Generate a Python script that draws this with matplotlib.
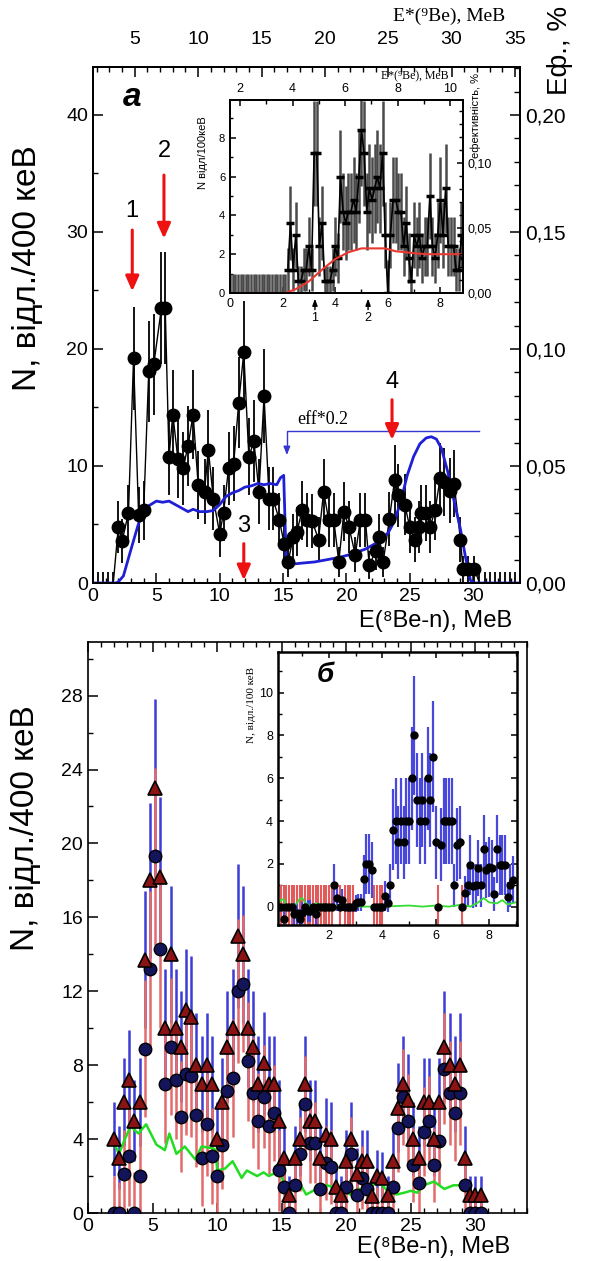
import numpy as np
import matplotlib
matplotlib.use('Agg')
from matplotlib import pyplot as plt
from matplotlib.ticker import MultipleLocator, FuncFormatter

plt.rcParams['font.family'] = ['Liberation Sans', 'DejaVu Sans']
plt.rcParams['axes.linewidth'] = 1.2
SERIF = ['Liberation Serif', 'DejaVu Serif']

# ---- panel a: spectrum, N / 400 keV
e_a = [0.0, 0.4, 0.8, 1.2, 1.6, 2.0, 2.3, 2.8, 3.2, 3.6, 4.0, 4.4, 4.8, 5.4, 5.7,
       6.0, 6.3, 6.7, 7.1, 7.5, 7.9, 8.3, 8.8, 9.1, 9.5, 10.0, 10.3, 10.7, 11.1, 11.5,
       11.9, 12.3, 12.7, 13.1, 13.5, 13.9, 14.2, 14.7, 15.1, 15.4, 15.8, 16.1, 16.5, 16.9, 17.3,
       17.8, 18.2, 18.6, 19.0, 19.4, 19.8, 20.2, 20.7, 21.1, 21.5, 21.8, 22.3, 22.6, 22.9, 23.4,
       23.8, 24.1, 24.6, 25.0, 25.4, 25.7, 25.9, 26.3, 26.6, 27.0, 27.4, 27.7, 28.2, 28.5, 29.0,
       29.2, 29.6, 30.1, 30.5, 30.9, 31.3, 31.7, 32.1, 32.5, 32.9, 33.3]
n_a = [0, 0, 0, 0, 0, 4.8, 3.6, 6.0, 19.2, 5.8, 6.2, 18.1, 18.7, 23.5, 23.5,
       10.8, 14.4, 10.6, 9.8, 11.7, 14.4, 8.4, 7.8, 11.4, 7.2, 4.2, 6.0, 9.8, 10.2, 15.4,
       19.7, 10.8, 12.1, 7.8, 16.0, 7.2, 7.2, 5.4, 3.3, 1.8, 3.9, 4.4, 6.2, 5.4, 5.3,
       3.7, 7.8, 5.4, 5.4, 1.8, 6.1, 4.8, 2.4, 5.4, 5.4, 1.5, 2.7, 3.9, 1.8, 5.5,
       8.8, 7.5, 6.7, 4.8, 3.7, 4.8, 6.0, 6.0, 4.8, 6.2, 9.0, 8.6, 7.9, 8.5, 3.7,
       1.2, 1.2, 1.2, 0, 0, 0, 0, 0, 0, 0, 0]
err_a = [0.9, 0.9, 0.9, 0.9, 0.9, 2.2, 1.9, 2.4, 4.4, 2.4, 2.5, 4.3, 4.3, 4.8, 4.8,
         3.3, 3.8, 3.3, 3.1, 3.4, 3.8, 2.9, 2.8, 3.4, 2.7, 2.0, 2.4, 3.1, 3.2, 3.9,
         4.4, 3.3, 3.5, 2.8, 4.0, 2.7, 2.7, 2.3, 1.8, 1.3, 2.0, 2.1, 2.5, 2.3, 2.3,
         1.9, 2.8, 2.3, 2.3, 1.3, 2.5, 2.2, 1.5, 2.3, 2.3, 1.2, 1.6, 2.0, 1.3, 2.3,
         3.0, 2.7, 2.6, 2.2, 1.9, 2.2, 2.4, 2.4, 2.2, 2.5, 3.0, 2.9, 2.8, 2.9, 1.9,
         1.1, 1.1, 1.1, 0.9, 0.9, 0.9, 0.9, 0.9, 0.9, 0.9, 0.9]
# efficiency curve in count units (right axis = 0.005 * left axis)
eff_e = [0, 1.8, 2.0, 2.4, 2.9, 3.3, 3.6, 4.0, 4.4, 5.0, 5.5, 6.0, 6.5, 7.0, 7.5, 7.9,
         8.4, 9.0, 9.5, 10.0, 10.5, 11.0, 11.5, 12.0, 12.5, 13.0, 13.5, 14.0, 14.5, 14.8,
         15.05, 15.25, 15.6, 16.5, 17.5, 18.5, 19.5, 20.5, 21.5, 22.5, 23.3, 23.8, 24.3,
         24.8, 25.3, 25.8, 26.3, 26.7, 27.1, 27.5, 28.0, 28.5, 29.0, 29.4, 29.8, 30.1, 33.7]
eff_n = [0, 0, 0.1, 0.6, 2.5, 4.0, 5.1, 6.1, 6.6, 7.0, 6.9, 7.0, 6.7, 6.4, 6.1, 6.3,
         6.1, 6.1, 6.2, 6.7, 7.4, 7.7, 7.9, 8.2, 8.3, 8.5, 8.4, 8.5, 8.4, 9.0,
         9.2, 1.8, 1.6, 1.7, 1.8, 2.0, 2.2, 2.5, 2.9, 3.5, 4.3, 5.3, 7.0,
         9.2, 10.8, 11.9, 12.4, 12.5, 12.3, 11.5, 9.5, 7.0, 4.6, 2.2, 0.2, 0, 0]

# ---- inset a, N / 100 keV
ins_a_e = [0.0, 0.1, 0.2, 0.3, 0.4, 0.5, 0.6, 0.7, 0.8, 0.9, 1.0, 1.1, 1.2, 1.3, 1.4,
           1.5, 1.6, 1.7, 1.8, 1.9, 2.0, 2.1, 2.2, 2.3, 2.4, 2.5, 2.6, 2.7, 2.8, 2.9,
           3.0, 3.1, 3.2, 3.3, 3.4, 3.5, 3.6, 3.7, 3.8, 3.9, 4.0, 4.1, 4.2, 4.3, 4.4,
           4.5, 4.6, 4.7, 4.8, 4.9, 5.0, 5.1, 5.2, 5.3, 5.4, 5.5, 5.6, 5.7, 5.8, 5.9,
           6.0, 6.1, 6.2, 6.3, 6.4, 6.5, 6.6, 6.7, 6.8, 6.9, 7.0, 7.1, 7.2, 7.3, 7.4,
           7.5, 7.6, 7.7, 7.8, 7.9, 8.0, 8.1, 8.2, 8.3, 8.4, 8.5, 8.6, 8.7, 8.8, 8.9]
ins_a_n = [0, 0, 0, 0, 0, 0, 0, 0, 0, 0, 0, 0, 0, 0, 0,
           0, 0, 0, 0, 0, 0, 0, 1.2, 3.6, 1.2, 3.0, 0.6, 0.6, 1.2, 1.2,
           2.4, 1.2, 7.2, 7.2, 2.4, 3.6, 0.6, 0.6, 0.6, 1.2, 2.4, 1.8, 6.0, 4.2, 3.6,
           4.2, 4.2, 4.8, 4.2, 6.0, 8.4, 7.2, 4.2, 5.4, 4.8, 5.4, 6.0, 5.4, 7.2, 3.0,
           0.0, 3.0, 4.8, 4.8, 4.2, 4.2, 2.4, 3.6, 1.8, 0.6, 3.0, 2.4, 3.0, 1.8, 2.4,
           2.4, 5.0, 2.4, 1.8, 3.0, 4.8, 3.0, 5.4, 2.4, 2.4, 2.4, 1.2, 1.2, 3.0, 1.8]
ins_a_err = [1.0, 1.0, 1.0, 1.0, 1.0, 1.0, 1.0, 1.0, 1.0, 1.0, 1.0, 1.0, 1.0, 1.0, 1.0,
             1.0, 1.0, 1.0, 1.0, 1.0, 1.0, 1.0, 1.1, 1.9, 1.1, 1.7, 0.8, 0.8, 1.1, 1.1,
             1.5, 1.1, 2.7, 2.7, 1.5, 1.9, 0.8, 0.8, 0.8, 1.1, 1.5, 1.3, 2.4, 2.0, 1.9,
             2.0, 2.0, 2.2, 2.0, 2.4, 2.9, 2.7, 2.0, 2.3, 2.2, 2.3, 2.4, 2.3, 2.7, 1.7,
             1.7, 1.7, 2.2, 2.2, 2.0, 2.0, 1.5, 1.9, 1.3, 0.8, 1.7, 1.5, 1.7, 1.3, 1.5,
             1.5, 2.2, 1.5, 1.3, 1.7, 2.2, 1.7, 2.3, 1.5, 1.5, 1.5, 1.1, 1.1, 1.7, 1.3]
ins_a_eff_e = [0, 2.1, 2.5, 3.0, 3.5, 4.0, 4.5, 5.0, 5.5, 5.9, 6.3, 6.7, 7.0, 7.5, 8.9]
ins_a_eff_n = [0, 0, 0.2, 0.6, 1.2, 1.75, 2.1, 2.3, 2.3, 2.3, 2.15, 2.1, 2.05, 2.0, 2.0]

# ---- panel b
e_b = [2.0, 2.4, 2.8, 3.2, 3.6, 4.0, 4.4, 4.8, 5.2, 5.6, 6.0, 6.4, 6.8, 7.2, 7.6, 8.0,
       8.4, 8.8, 9.2, 9.6, 10.0, 10.4, 10.8, 11.2, 11.6, 12.0, 12.4, 12.8, 13.2, 13.6,
       14.0, 14.4, 14.8, 15.2, 15.6, 16.0, 16.4, 16.8, 17.2, 17.6, 18.0, 18.4, 18.8,
       19.2, 19.6, 20.0, 20.4, 20.8, 21.2, 21.6, 22.0, 22.4, 22.8, 23.2, 23.6, 24.0,
       24.4, 24.8, 25.2, 25.6, 26.0, 26.4, 26.8, 27.2, 27.6, 28.0, 28.4, 28.8, 29.2,
       29.6, 30.0, 30.4]
tri_b = [4.0, 3.0, 6.0, 7.2, 5.0, 6.0, 13.7, 18.0, 23.0, 18.2, 10.0, 14.0, 10.0, 9.0,
         11.0, 10.6, 8.0, 7.0, 8.0, 7.0, 4.0, 6.0, 9.0, 10.0, 15.0, 14.0, 10.0, 9.0, 7.0,
         8.1, 7.0, 7.0, 5.0, 3.0, 1.0, 3.0, 4.0, 7.0, 5.0, 5.0, 3.0, 4.2, 4.0, 1.4, 1.0,
         2.8, 4.0, 2.1, 2.8, 2.8, 0.9, 2.0, 1.9, 1.0, 2.8, 5.7, 7.0, 6.1, 4.0, 3.0, 6.0,
         6.0, 4.0, 6.0, 9.0, 8.0, 7.0, 8.0, 3.0, 1.0, 1.0, 1.0]
circ_b = [0, 0, 2.1, 3.1, 0, 2.0, 8.9, 13.2, 19.3, 14.3, 7.0, 9.0, 7.2, 5.2, 7.5, 7.4,
          5.3, 3.0, 4.8, 3.1, 2.0, 3.7, 6.6, 7.3, 12.0, 12.4, 8.2, 6.5, 5.0, 6.3, 4.7,
          5.4, 2.3, 1.4, 0, 1.5, 3.2, 5.9, 3.8, 3.8, 1.3, 2.7, 2.5, 0, 0, 1.4, 3.2, 1.0,
          1.9, 1.3, 0, 0, 0, 0, 1.4, 4.6, 6.3, 5.0, 2.6, 1.6, 4.4, 5.0, 2.6, 3.9, 7.8,
          6.5, 5.4, 6.5, 1.5, 0, 0, 0]
err_b = [2.0, 1.7, 2.4, 2.7, 2.2, 2.4, 3.7, 4.2, 4.8, 4.3, 3.2, 3.7, 3.2, 3.0, 3.3, 3.3,
         2.8, 2.6, 2.8, 2.6, 2.0, 2.4, 3.0, 3.2, 3.9, 3.7, 3.2, 3.0, 2.6, 2.8, 2.6, 2.6,
         2.2, 1.7, 1.0, 1.7, 2.0, 2.6, 2.2, 2.2, 1.7, 2.0, 2.0, 1.2, 1.0, 1.7, 2.0, 1.4,
         1.7, 1.7, 0.9, 1.4, 1.4, 1.0, 1.7, 2.4, 2.6, 2.5, 2.0, 1.7, 2.4, 2.4, 2.0, 2.4,
         3.0, 2.8, 2.6, 2.8, 1.7, 1.0, 1.0, 1.0]
green_e = [2.0, 2.4, 2.8, 3.3, 3.9, 4.5, 5.3, 5.95, 6.3, 6.85, 7.5, 8.3, 8.8, 9.7, 9.9,
           10.0, 10.6, 11.2, 11.9, 12.3, 13.1, 13.6, 14.0, 14.6, 14.9, 15.2, 15.9, 16.4,
           16.9, 17.7, 18.5, 19.0, 19.6, 20.3, 21.0, 21.6, 22.5, 23.2, 23.9, 24.5, 25.0,
           25.5, 26.0, 26.8, 27.6, 28.3, 29.1, 29.3]
green_n = [3.8, 3.2, 3.9, 4.7, 4.3, 4.8, 3.7, 3.4, 4.3, 3.2, 3.6, 2.9, 3.6, 3.5, 3.4,
           2.3, 2.4, 2.8, 1.9, 2.3, 2.0, 2.2, 2.0, 2.2, 2.2, 1.5, 1.4, 1.6,
           1.0, 1.3, 1.5, 1.4, 1.3, 1.0, 1.3, 1.35, 1.7, 1.2, 1.0, 1.1, 1.2,
           1.1, 1.5, 1.7, 1.3, 1.5, 1.5, 1.4]

# ---- inset b, N / 100 keV
ins_b_e = [0.1, 0.2, 0.3, 0.4, 0.5, 0.6, 0.7, 0.8, 0.9, 1.0, 1.1, 1.2, 1.3, 1.4, 1.5,
           1.6, 1.7, 1.8, 1.9, 2.0, 2.1, 2.2, 2.3, 2.4, 2.5, 2.6, 2.7, 2.8, 2.9, 3.0,
           3.1, 3.2, 3.3, 3.4, 3.5, 3.6, 3.7, 3.8, 3.9, 4.0, 4.1, 4.2, 4.3, 4.4, 4.5,
           4.6, 4.7, 4.8, 4.9, 5.0, 5.1, 5.2, 5.3, 5.4, 5.5, 5.6, 5.7, 5.8, 5.9, 6.0,
           6.1, 6.2, 6.3, 6.4, 6.5, 6.6, 6.7, 6.8, 6.9, 7.0, 7.1, 7.2, 7.3, 7.4, 7.5,
           7.6, 7.7, 7.8, 7.9, 8.0, 8.1, 8.2, 8.3, 8.4, 8.5, 8.6, 8.7, 8.8, 8.9]
ins_b_n = [0, 0, -0.6, 0, 0, 0, -0.35, -0.3, -0.6, -0.3, 0, -0.2, -0.2, 0, -0.35,
           0, 0, 0, 0, 0, 0, 1.0, 0.4, 0, 0.3, 0, 0, 0, 0, 0.15,
           0.2, 0.2, 1.3, 2.0, 2.0, 1.7, 0, 0, 0, 0, 0.5, 0.15, 1.0, 3.6, 4.0,
           3.0, 4.0, 3.0, 4.0, 4.0, 6.0, 8.0, 5.0, 4.0, 5.0, 4.0, 6.0, 5.0, 7.0, 3.0,
           0, 2.9, 4.0, 4.0, 4.0, 4.0, 1.0, 2.9, 3.0, 0, 0.65, 1.0, 1.95, 0.95, 1.0,
           1.8, 1.0, 2.7, 1.7, 1.85, 1.8, 0.6, 2.7, 1.95, 1.95, 1.95, 0.45, 1.0, 1.25]
ins_b_err = [1, 1, 0.5, 1, 1, 1, 0.5, 0.5, 0.5, 0.5, 1, 0.5, 0.5, 1, 0.5,
             1, 1, 1, 1, 1, 1, 1.0, 0.6, 1, 0.5, 1, 1, 1, 1, 0.4,
             0.4, 0.4, 1.1, 1.4, 1.4, 1.3, 1, 1, 1, 1, 0.7, 0.4, 1.0, 1.9, 2.0,
             1.7, 2.0, 1.7, 2.0, 2.0, 2.4, 2.8, 2.2, 2.0, 2.2, 2.0, 2.4, 2.2, 2.6, 1.7,
             1, 1.7, 2.0, 2.0, 2.0, 2.0, 1.0, 1.7, 1.7, 1, 0.8, 1.0, 1.4, 1.0, 1.0,
             1.3, 1.0, 1.6, 1.3, 1.4, 1.3, 0.8, 1.6, 1.4, 1.4, 1.4, 0.7, 1.0, 1.1]
ins_b_green_e = [0.1, 0.2, 0.3, 0.4, 0.7, 0.9, 1.0, 1.1, 1.3, 1.5, 1.7, 2.0, 2.5, 3.0,
                 4.0, 5.0, 5.5, 6.0, 6.5, 7.0, 7.3, 7.6, 7.8, 8.0, 8.3, 8.5, 8.7, 9.0]
ins_b_green_n = [0.1, 0.3, 0.35, 0.1, 0.0, 0.35, 0.4, 0.2, 0.0, 0.15, 0.1, 0.0, 0.05, 0.0,
                 0.0, 0.05, 0.0, 0.05, 0.0, 0.1, 0.0, 0.2, 0.4, 0.2, 0.15, 0.3, 0.1, 0.2]

W, H = 592, 1261


def box(l, t, r, b):
    return [l / W, 1 - b / H, (r - l) / W, (b - t) / H]


def fpos(x, y):
    return x / W, 1 - y / H


comma = FuncFormatter(lambda v, p: ('%.2f' % v).replace('.', ','))


def ticks(ax, axis, major, minor, size, **kw):
    a = ax.xaxis if axis == 'x' else ax.yaxis
    a.set_major_locator(MultipleLocator(major))
    a.set_minor_locator(MultipleLocator(minor))
    ax.tick_params(axis=axis, which='both', direction='in', labelsize=size, **kw)
    ax.tick_params(axis=axis, which='major', length=size * 0.5, width=1.1)
    ax.tick_params(axis=axis, which='minor', length=size * 0.28, width=1)


fig = plt.figure(figsize=(W / 100, H / 100), dpi=100)

# ================= panel a
ax1 = fig.add_axes(box(93, 67, 520, 583))
e, n, er = np.array(e_a), np.array(n_a), np.array(err_a)
ax1.errorbar(e, n, yerr=er, fmt='none', ecolor='black', elinewidth=1.3, zorder=2)
ax1.plot(e, n, color='black', lw=1.0, zorder=3)
ax1.plot(e[n > 0], n[n > 0], 'o', color='black', ms=9, zorder=4)
ax1.plot(eff_e, eff_n, color='#1f1fd6', lw=2, zorder=3)
ax1.set_xlim(0, 33.7)
ax1.set_ylim(0, 44.1)
ticks(ax1, 'x', 5, 1, 14, top=False)
ticks(ax1, 'y', 10, 5, 14, right=False)

ax1r = ax1.twinx()
ax1r.set_ylim(0, 44.1 * 0.005)
ticks(ax1r, 'y', 0.05, 0.01, 15)
ax1r.yaxis.set_major_formatter(comma)

ax1t = ax1.twiny()
ax1t.set_xlim(1.7, 35.4)
ticks(ax1t, 'x', 5, 1, 14, pad=14)

for x, tail, tip, lbl, ylbl in [(3.1, 30.4, 24.7, '1', 31.8), (5.6, 35.1, 29.2, '2', 36.9),
                                (11.9, 3.6, 0.0, '3', 4.9), (23.6, 15.9, 12.0, '4', 17.2)]:
    ax1.annotate('', xy=(x, tip), xytext=(x, tail),
                 arrowprops=dict(arrowstyle='-|>,head_width=0.4,head_length=0.9',
                                 color='#ee1111', lw=2.2), zorder=6)
    ax1.text(x, ylbl, lbl, fontsize=17, ha='center', va='center')

ax1.plot([30.5, 15.3, 15.3], [13.0, 13.0, 11.4], color='#3535d0', lw=1)
ax1.annotate('', xy=(15.3, 10.7), xytext=(15.3, 11.6),
             arrowprops=dict(arrowstyle='-|>,head_width=0.2,head_length=0.5', color='#3535d0', lw=1))
ax1.text(16.1, 14.0, 'eff*0.2', family=SERIF, fontsize=13, va='center')

# ================= inset a
axi = fig.add_axes(box(230, 100, 463, 293))
e, n, er = np.array(ins_a_e), np.array(ins_a_n), np.array(ins_a_err)
axi.errorbar(e, n, yerr=er, fmt='none', ecolor='#4a4a4a', elinewidth=1.8)
axi.plot(e[e > 2.1], n[e > 2.1], color='black', lw=1.2)
axi.plot(e[e > 2.1], n[e > 2.1], '_', color='black', ms=6, mew=2.5)
axi.plot(ins_a_eff_e, ins_a_eff_n, color='#e8382f', lw=1.5)
axi.set_xlim(0, 8.86)
axi.set_ylim(0, 9.95)
ticks(axi, 'x', 2, 1, 9, top=False)
ticks(axi, 'y', 2, 1, 8, right=False)

axir = axi.twinx()
axir.set_ylim(0, 9.95 * 0.05 / 3.35)
ticks(axir, 'y', 0.05, 0.01, 9)
axir.yaxis.set_major_formatter(comma)

axit = axi.twiny()
axit.set_xlim(1.62, 10.48)
ticks(axit, 'x', 2, 1, 9)

for x, lbl in [(3.23, '1'), (5.25, '2')]:
    axi.annotate('', xy=(x, -0.15), xytext=(x, -1.0), annotation_clip=False,
                 arrowprops=dict(arrowstyle='-|>,head_width=0.15,head_length=0.4', color='black', lw=1))
    axi.text(x, -1.3, lbl, fontsize=9, ha='center', va='center', clip_on=False)

# ================= panel b
ax2 = fig.add_axes(box(88, 642, 527, 1213))
ax2.errorbar(e_b, tri_b, yerr=err_b, fmt='none', ecolor='#3c3cd6', elinewidth=1.8, zorder=2)
ax2.errorbar(e_b, circ_b, yerr=err_b, fmt='none', ecolor='#e36b6b', elinewidth=1.8, zorder=2.5)
ax2.plot(green_e, green_n, color='#22dd22', lw=1.8, zorder=3)
ax2.plot(e_b, circ_b, 'o', ms=9, mfc='#14145a', mec='black', mew=1, zorder=4)
ax2.plot(e_b, tri_b, '^', ms=10, mfc='#8a1414', mec='black', mew=1.2, zorder=5)
ax2.set_xlim(0, 34.0)
ax2.set_ylim(0, 30.9)
ticks(ax2, 'x', 5, 1, 14, top=True)
ticks(ax2, 'y', 4, 2, 14, right=False)

# ================= inset b
axb = fig.add_axes(box(278, 652, 517, 925))
e, n, er = np.array(ins_b_e), np.array(ins_b_n), np.array(ins_b_err)
axb.vlines(e[n <= 0], -1.0, 1.0, color='#e25b5b', lw=1.5)
axb.errorbar(e[n != 0], n[n != 0], yerr=er[n != 0], fmt='none', ecolor='#4848dc', elinewidth=1.6)
axb.plot(ins_b_green_e, ins_b_green_n, color='#33dd33', lw=1.3)
axb.plot(e, n, 'o', ms=5, color='black')
axb.set_xlim(0.09, 9.05)
axb.set_ylim(-0.86, 11.9)
for s in axb.spines.values():
    s.set_linewidth(1.8)
ticks(axb, 'x', 2, 1, 9, top=True)
ticks(axb, 'y', 2, 1, 9, right=True)

# ================= texts
fig.text(*fpos(28, 268), 'N, відл./400 кеВ', rotation=90, fontsize=24, ha='center', va='center')
fig.text(*fpos(26, 828), 'N, відл./400 кеВ', rotation=90, fontsize=24, ha='center', va='center')
fig.text(*fpos(436, 621), 'E(⁸Be-n), МеВ', fontsize=17, ha='center', va='center')
fig.text(*fpos(434, 1247), 'E(⁸Be-n), МеВ', fontsize=17, ha='center', va='center')
fig.text(*fpos(449, 16), 'E*(⁹Be), МеВ', family=SERIF, fontsize=14, ha='center', va='center')
fig.text(*fpos(560, 50), 'Еф., %', rotation=90, fontsize=20, ha='center', va='center')
fig.text(*fpos(132, 97), 'а', fontsize=24, fontweight='bold', fontstyle='italic', ha='center', va='center')
fig.text(*fpos(325, 675), 'б', fontsize=20, fontweight='bold', fontstyle='italic', ha='center', va='center')
fig.text(*fpos(203, 153), 'N відл/100кеВ', rotation=90, fontsize=8, ha='center', va='center')
fig.text(*fpos(476, 115), 'ефективність, %', rotation=90, fontsize=8, ha='center', va='center')
fig.text(*fpos(415, 76), 'E*(⁹Be), МеВ', family=SERIF, fontsize=8.5, ha='center', va='center')
fig.text(*fpos(251, 705), 'N, відл./100 кеВ', rotation=90, family=SERIF, fontsize=8, ha='center', va='center')

fig.savefig('out.png', dpi=100)
